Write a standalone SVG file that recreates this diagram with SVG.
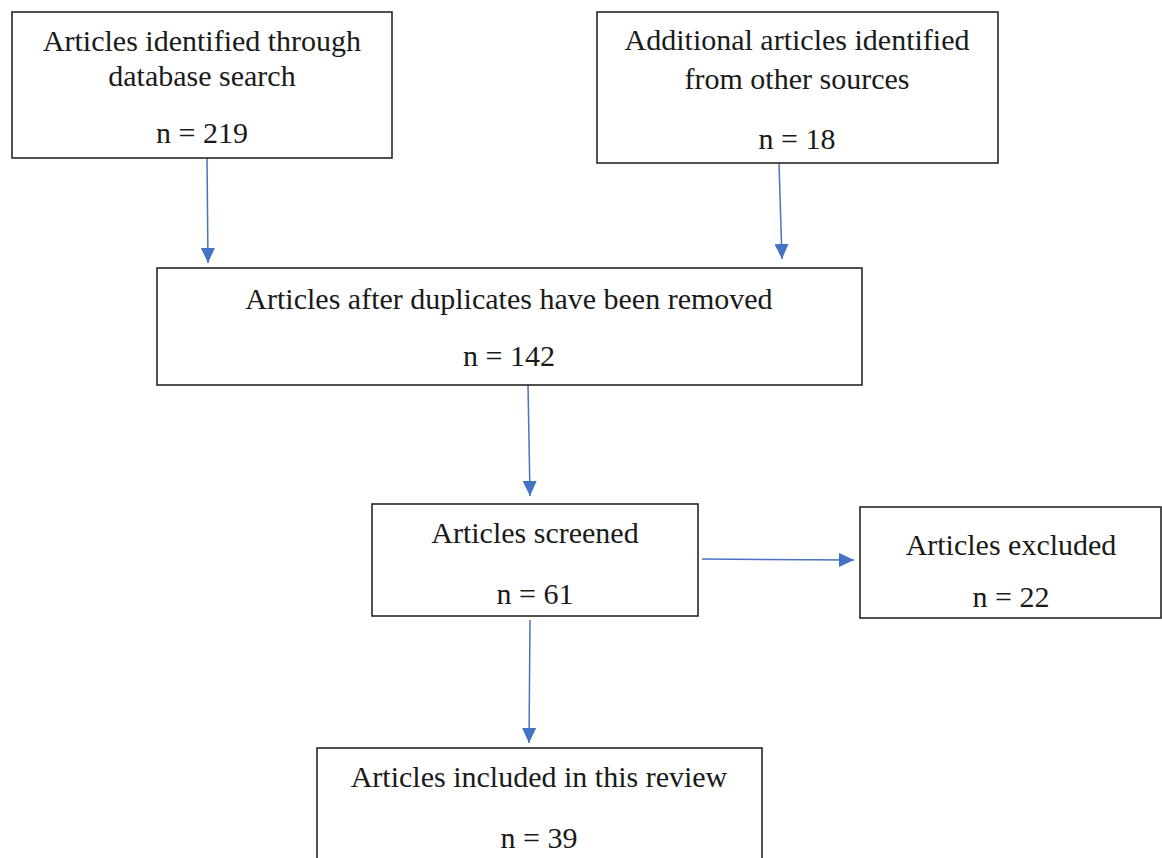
<svg xmlns="http://www.w3.org/2000/svg" width="1162" height="858" viewBox="0 0 1162 858">
<style>
.box{fill:#fff;stroke:#262626;stroke-width:1.6}
.t{font-family:"Liberation Serif","Times New Roman",serif;font-size:30px;fill:#1a1a1a;text-anchor:middle}
.c{stroke:#4a72c0;stroke-width:1.5;fill:none;marker-end:url(#ah)}
</style>
<defs>
<marker id="ah" viewBox="0 0 15 14" refX="15" refY="7" markerWidth="15" markerHeight="14" markerUnits="userSpaceOnUse" orient="auto">
<path d="M0,0 L15,7 L0,14 z" fill="#4472c4"/>
</marker>
</defs>
<rect width="1162" height="858" fill="#fff"/>
<g id="connectors">
<line class="c" x1="207" y1="158" x2="208" y2="263"/>
<line class="c" x1="779" y1="163" x2="782" y2="259"/>
<line class="c" x1="528" y1="385" x2="530" y2="496"/>
<line class="c" x1="702" y1="559" x2="854" y2="560"/>
<line class="c" x1="530" y1="620" x2="529" y2="743"/>
</g>
<g id="n1">
<rect class="box" x="12" y="12" width="380" height="146"/>
<text class="t" x="202" y="51">Articles identified through</text>
<text class="t" x="202" y="86">database search</text>
<text class="t" x="202" y="143">n = 219</text>
</g>
<g id="n2">
<rect class="box" x="597" y="12" width="401" height="151"/>
<text class="t" x="797" y="50">Additional articles identified</text>
<text class="t" x="797" y="89">from other sources</text>
<text class="t" x="797" y="149">n = 18</text>
</g>
<g id="n3">
<rect class="box" x="157" y="268" width="705" height="117"/>
<text class="t" x="509" y="309">Articles after duplicates have been removed</text>
<text class="t" x="509" y="366">n = 142</text>
</g>
<g id="n4">
<rect class="box" x="372" y="504" width="326" height="112"/>
<text class="t" x="535" y="543">Articles screened</text>
<text class="t" x="535" y="604">n = 61</text>
</g>
<g id="n5">
<rect class="box" x="860" y="507" width="301" height="111"/>
<text class="t" x="1011" y="555">Articles excluded</text>
<text class="t" x="1011" y="607">n = 22</text>
</g>
<g id="n6">
<rect class="box" x="317" y="748" width="445" height="120"/>
<text class="t" x="539" y="787">Articles included in this review</text>
<text class="t" x="539" y="848">n = 39</text>
</g>
</svg>
